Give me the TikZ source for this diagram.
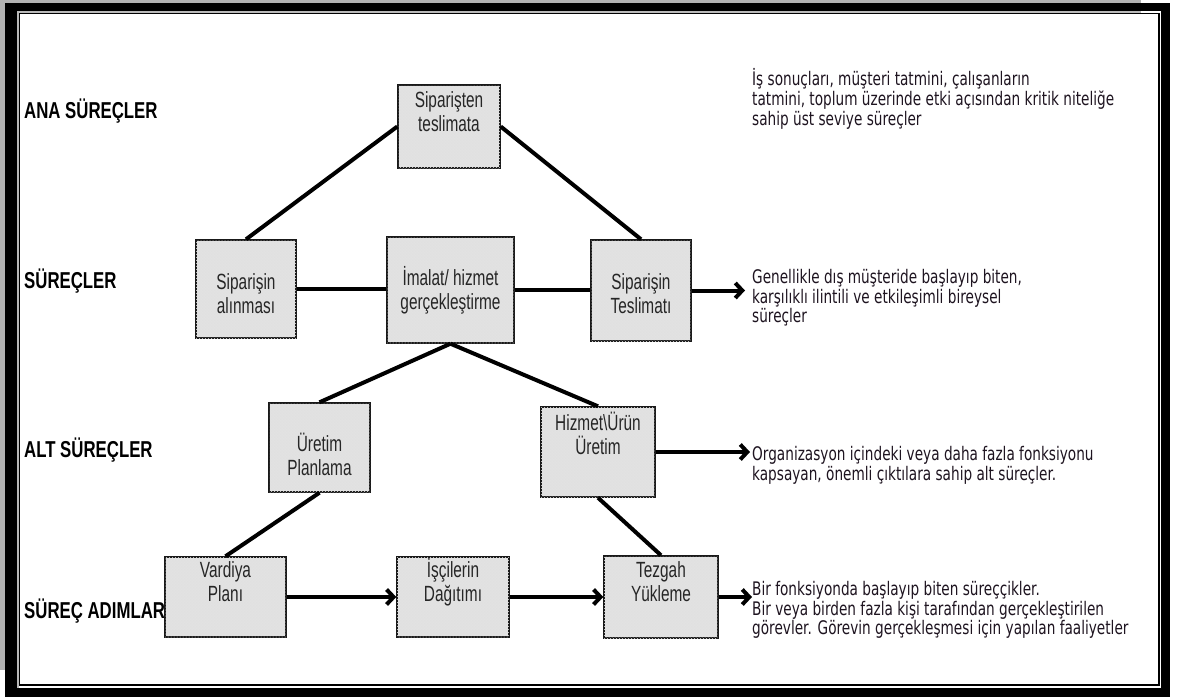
\documentclass[tikz,border=0pt]{standalone}
\usepackage{fontspec}
\usetikzlibrary{arrows.meta,calc,patterns}
\newfontfamily\levelfont[FakeStretch=0.73]{Liberation Sans}
\newfontfamily\stepfont[FakeStretch=0.7]{Liberation Sans}
\newfontfamily\notefont[FakeStretch=0.73]{DejaVu Sans}
\definecolor{inkdark}{HTML}{1E1420}
\definecolor{boxgray}{HTML}{E2E2E2}

\begin{document}
\begin{tikzpicture}[x=1pt,y=-1pt,
  level/.style={anchor=base west,inner sep=0pt,font=\levelfont\bfseries\fontsize{23}{26}\selectfont},
  procbox/.style={draw=black!90,line width=1.4pt,fill=boxgray,inner sep=0pt,
    postaction={pattern=crosshatch dots,pattern color=black!12}},
  boxtext/.style={align=center,inner sep=0pt,text=black!85,font=\stepfont\fontsize{22}{24}\selectfont},
  note/.style={anchor=base west,inner sep=0pt,text=inkdark,font=\notefont\fontsize{18.7}{20}\selectfont},
  link/.style={line width=4pt},
  flow/.style={line width=4pt,-{Straight Barb[length=7pt,width=15pt]}}]

\useasboundingbox (0,0) rectangle (1179,697);

% outer double frame
\fill[white] (0,0) rectangle (1179,697);
\fill[gray!60] (0,0) rectangle (1141,3);
\fill[gray!60] (0,0) rectangle (6,670);
\fill[black] (5,2.5) rectangle (1170,697);
\fill[white] (17,10.5) rectangle (1161,687.5);
\fill[gray!55] (17,10.5) rectangle (1141,12.5);
\fill[gray!55] (17,10.5) rectangle (18.5,687.5);
\draw[line width=1.4pt] (19.2,13.2) rectangle (1158.8,684.8);

% level names
\node[level] (lv1) at (24,118) {ANA SÜREÇLER};
\node[level] (lv2) at (24,288) {SÜREÇLER};
\node[level] (lv3) at (24,457) {ALT SÜREÇLER};
\node[level] (lv4) at (24,618) {SÜREÇ ADIMLAR};

% process boxes
\node[procbox,minimum width=102pt,minimum height=83pt]  (b1) at (449,126.5) {};
\node[procbox,minimum width=100pt,minimum height=98pt]  (b2) at (246,289) {};
\node[procbox,minimum width=127pt,minimum height=106pt] (b3) at (450.5,290) {};
\node[procbox,minimum width=100pt,minimum height=101pt] (b4) at (641,290.5) {};
\node[procbox,minimum width=101pt,minimum height=89pt]  (b5) at (319.5,447.5) {};
\node[procbox,minimum width=114pt,minimum height=90pt]  (b6) at (598,452) {};
\node[procbox,minimum width=121pt,minimum height=80pt]  (b7) at (225.5,597) {};
\node[procbox,minimum width=112pt,minimum height=80pt]  (b8) at (453,597) {};
\node[procbox,minimum width=114pt,minimum height=82pt]  (b9) at (661,597) {};

% box captions
\node[boxtext] (t1) at (449,112) {Siparişten\\teslimata};
\node[boxtext] (t2) at (246,294) {Siparişin\\alınması};
\node[boxtext] (t3) at (450.5,290) {İmalat/ hizmet\\gerçekleştirme};
\node[boxtext] (t4) at (641,294) {Siparişin\\Teslimatı};
\node[boxtext] (t5) at (319.5,454) {Üretim\\Planlama};
\node[boxtext] (t6) at (598,433) {Hizmet\textbackslash Ürün\\Üretim};
\node[boxtext] (t7) at (225.5,582) {Vardiya\\Planı};
\node[boxtext] (t8) at (453,582) {İşçilerin\\Dağıtımı};
\node[boxtext] (t9) at (661,582) {Tezgah\\Yükleme};

% hierarchy links
\draw[link] (b1.west) -- (b2.north);
\draw[link] (b1.east) -- (b4.north);
\draw[link] (b2.east) -- (b2.east -| b3.west);
\draw[link] (b3.east) -- (b3.east -| b4.west);
\draw[link] (b3.south) -- (b5.north);
\draw[link] (b3.south) -- (b6.north);
\draw[link] (b5.south) -- (b7.north);
\draw[link] (b6.south) -- (b9.north);

% flow arrows
\coordinate (n2) at (745,290.5);
\coordinate (n3) at (750,452);
\coordinate (n4) at (752,597);
\draw[flow] (b4.east) -- (n2);
\draw[flow] (b6.east) -- (n3);
\draw[flow] (b7.east) -- (b8.west);
\draw[flow] (b8.east) -- (b9.west);
\draw[flow] (b9.east) -- (n4);

% level descriptions
\node[note] (d1a) at (752,85)  {İş sonuçları, müşteri tatmini, çalışanların};
\node[note] (d1b) at (752,105) {tatmini, toplum üzerinde etki açısından kritik niteliğe};
\node[note] (d1c) at (752,125) {sahip üst seviye süreçler};

\node[note] (d2a) at (752,283) {Genellikle dış müşteride başlayıp biten,};
\node[note] (d2b) at (752,303) {karşılıklı ilintili ve etkileşimli bireysel};
\node[note] (d2c) at (752,322) {süreçler};

\node[note] (d3a) at (752,460) {Organizasyon içindeki veya daha fazla fonksiyonu};
\node[note] (d3b) at (752,480) {kapsayan, önemli çıktılara sahip alt süreçler.};

\node[note] (d4a) at (752,595) {Bir fonksiyonda başlayıp biten süreççikler.};
\node[note] (d4b) at (752,615) {Bir veya birden fazla kişi tarafından gerçekleştirilen};
\node[note] (d4c) at (752,634) {görevler. Görevin gerçekleşmesi için yapılan faaliyetler};
\end{tikzpicture}
\end{document}
